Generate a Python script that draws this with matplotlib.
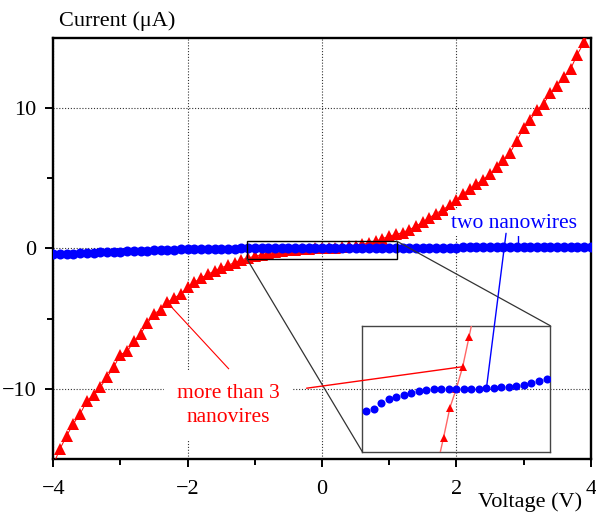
import numpy as np
import matplotlib
matplotlib.use("Agg")
import matplotlib.pyplot as plt
from matplotlib.patches import Rectangle, ConnectionPatch

plt.rcParams['font.family'] = ['Liberation Serif', 'DejaVu Serif']

# ---------------- data ----------------
voltage = [round(-4.0 + 0.1 * i, 1) for i in range(81)]

current_multi = [
    -15.40, -14.28, -13.33, -12.49, -11.78, -10.88, -10.41, -9.89, -9.17, -8.46,
    -7.56, -7.34, -6.63, -6.08, -5.35, -4.65, -4.37, -3.83, -3.54, -3.23,
    -2.76, -2.42, -2.10, -1.85, -1.60, -1.38, -1.20, -1.02, -0.82, -0.68,
    -0.56, -0.45, -0.36, -0.28, -0.21, -0.15, -0.10, -0.06, -0.03, -0.01,
    0.00,
    0.02, 0.05, 0.09, 0.14, 0.20, 0.28, 0.38, 0.50, 0.70, 0.86,
    1.00, 1.12, 1.34, 1.57, 1.88, 2.19, 2.48, 2.76, 3.07, 3.43,
    3.90, 4.19, 4.57, 4.90, 5.30, 5.76, 6.29, 6.80, 7.66, 8.55,
    9.14, 9.86, 10.30, 11.05, 11.57, 12.20, 12.76, 13.80, 14.66, 15.60,
]

current_two = [
    -0.43, -0.41, -0.39, -0.37, -0.35, -0.33, -0.31, -0.29, -0.27, -0.25,
    -0.24, -0.22, -0.20, -0.19, -0.17, -0.15, -0.13, -0.11, -0.09, -0.07,
    -0.06, -0.05, -0.04, -0.03, -0.03, -0.02, -0.02, -0.02, -0.01, -0.01,
    -0.01, -0.01, -0.01, -0.01, 0.00, 0.00, 0.00, 0.00, 0.00, 0.00,
    0.00,
    0.00, 0.00, 0.00, 0.01, 0.01, 0.01, 0.01, 0.02, 0.02, 0.02,
    0.02, 0.03, 0.03, 0.03, 0.04, 0.04, 0.04, 0.05, 0.05, 0.05,
    0.06, 0.06, 0.06, 0.07, 0.07, 0.07, 0.08, 0.08, 0.08, 0.08,
    0.09, 0.09, 0.09, 0.09, 0.10, 0.10, 0.10, 0.10, 0.11, 0.11,
]

# inset (magnified view, arbitrary units)
inset_blue_x = [round(-1.2 + 0.1 * i, 1) for i in range(25)]
inset_blue_y = [-0.233, -0.212, -0.146, -0.111, -0.083, -0.062, -0.049, -0.028,
                -0.014, -0.007, -0.007, -0.007, 0.0, 0.0, 0.0, 0.0, 0.003, 0.007,
                0.014, 0.021, 0.031, 0.035, 0.062, 0.080, 0.100]
inset_red_x = [-0.255, -0.17, -0.085, 0.0, 0.085, 0.17, 0.255]
inset_red_y = [-0.80, -0.505, -0.196, 0.0, 0.227, 0.536, 0.85]

x_major = [-4, -2, 0, 2, 4]
x_minor = [-3, -1, 1, 3]
y_major = [-10, 0, 10]
y_minor = [-5, 5]

RED = '#ff0000'
BLUE = '#0000ff'

# ---------------- figure ----------------
fig = plt.figure(figsize=(5.96, 5.14), dpi=100)
ax = fig.add_axes([0.0894, 0.107, 0.9017, 0.8197])
ax.set_xlim(-4, 4)
ax.set_ylim(-15, 15)
ax.set_xticks(x_major)
ax.set_xticks(x_minor, minor=True)
ax.set_yticks(y_major)
ax.set_yticks(y_minor, minor=True)
ax.tick_params(which='major', direction='out', length=6, width=1.4,
               labelsize=16)
ax.tick_params(axis='x', which='major', pad=9)
ax.tick_params(axis='y', which='major', pad=6)
ax.tick_params(which='minor', direction='out', length=4.5, width=1.4)
for s in ax.spines.values():
    s.set_linewidth(1.7)
ax.set_axisbelow(True)
ax.grid(which='major', linestyle=(0, (1, 1.6)), color='#333333', lw=0.8)

ax.plot(voltage, current_multi, color=RED, lw=0.7, marker='^', ms=9,
        mew=0, zorder=4)
ax.plot(voltage, current_two, color=BLUE, lw=0, marker='o', ms=7.2,
        mew=0, zorder=5)

# zoom box
ax.add_patch(Rectangle((-1.12, -0.73), 2.23, 1.25, fill=False, ec='black',
                       lw=1.0, zorder=6))

# axis labels
fig.text(59 / 596, 1 - 21 / 514, 'Current (\u03bcA)', ha='left', va='center',
         fontsize=16)
fig.text(530 / 596, 1 - 502 / 514, 'Voltage (V)', ha='center', va='center',
         fontsize=16)

# inset
axins = fig.add_axes([0.6079, 0.1212, 0.3154, 0.2451])
axins.set_facecolor('none')
axins.set_xlim(-1.25, 1.25)
axins.set_ylim(-0.65, 0.65)
axins.set_xticks([])
axins.set_yticks([])
for s in axins.spines.values():
    s.set_linewidth(1.0)
    s.set_color('#444444')
axins.plot(inset_red_x, inset_red_y, color='#ff6666', lw=1.0, marker='^',
           ms=6, mfc=RED, mew=0, zorder=3)
axins.plot(inset_blue_x, inset_blue_y, color=BLUE, lw=0, marker='o', ms=5.8,
           mew=0, zorder=4)

# connectors from zoom box to inset
for xyA, xyB in [((-1.12, -0.73), (0, 0)), ((1.11, 0.52), (1, 1))]:
    cp = ConnectionPatch(xyA=xyA, coordsA=ax.transData, xyB=xyB,
                         coordsB=axins.transAxes, color='#333333', lw=0.9)
    fig.add_artist(cp)

# annotations
ax.text(2.86, 1.80, 'two nanowires', color=BLUE, ha='center', va='center',
        fontsize=15.5, zorder=7,
        bbox=dict(boxstyle='square,pad=0.15', fc='white', ec='none'))
ax.text(-1.40, -11.2, 'more than 3\nnanovires', color=RED, ha='center',
        va='center', fontsize=15.5, linespacing=1.4, zorder=7,
        bbox=dict(boxstyle='square,pad=0.6', fc='white', ec='none'))

# red annotation lines
ax.plot([-1.39, -2.24], [-8.57, -4.18], color=RED, lw=0.8, zorder=6)
cp = ConnectionPatch(xyA=(-0.23, -9.96), coordsA=ax.transData,
                     xyB=(0.084, 0.227), coordsB=axins.transData,
                     color=RED, lw=1.0)
fig.add_artist(cp)
# blue annotation lines
ax.plot([2.92, 2.92], [1.07, 0.25], color=BLUE, lw=1.0, zorder=6)
cp = ConnectionPatch(xyA=(2.74, 1.07), coordsA=ax.transData,
                     xyB=(0.4, 0.0), coordsB=axins.transData,
                     color=BLUE, lw=1.0)
fig.add_artist(cp)

fig.savefig('out.png', dpi=100)
